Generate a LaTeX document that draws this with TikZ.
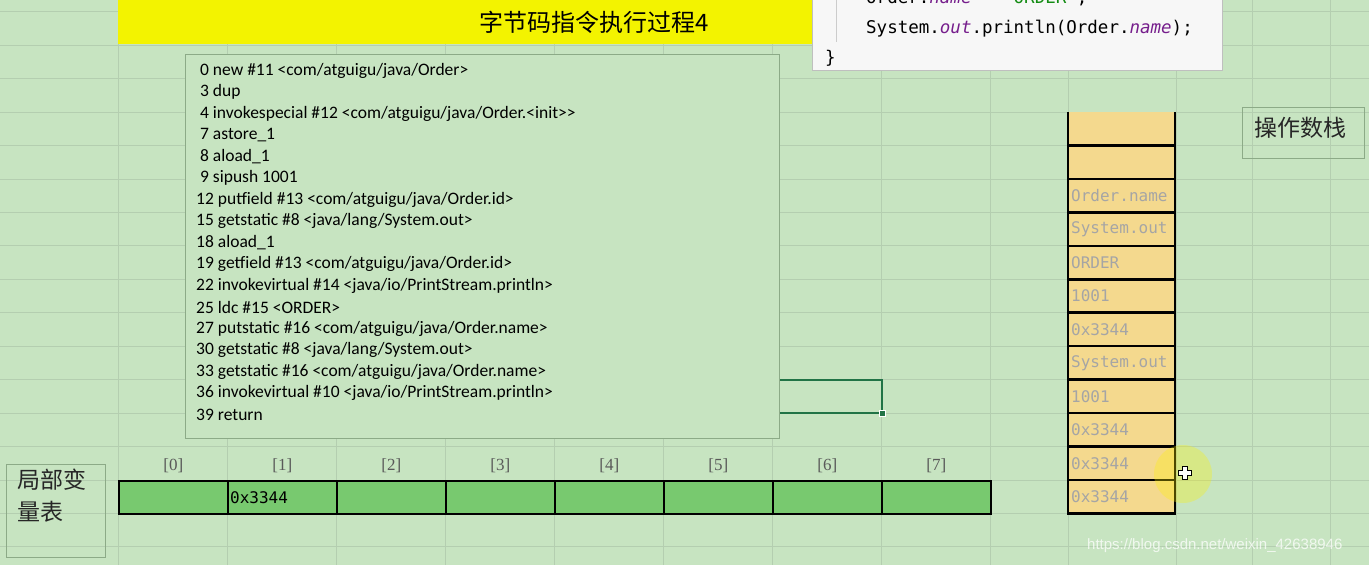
\documentclass[tikz,border=0pt]{standalone}
\usepackage{fontspec}
\setmainfont{Carlito}
\setmonofont{DejaVu Sans Mono}
\newfontfamily\cjk{Noto Sans CJK SC}
\newfontfamily\idxfont{Liberation Serif}
\newfontfamily\wmfont{Liberation Sans}
\usetikzlibrary{positioning}

\definecolor{sheetbg}{RGB}{199,228,193}
\definecolor{gridln}{RGB}{180,206,176}
\definecolor{titleyellow}{RGB}{243,243,0}
\definecolor{boxedge}{RGB}{140,170,135}
\definecolor{lvgreen}{RGB}{120,201,111}
\definecolor{stackfill}{RGB}{244,217,142}
\definecolor{stacktext}{RGB}{165,165,165}
\definecolor{codebg}{RGB}{247,247,247}
\definecolor{kwpurple}{RGB}{118,30,140}
\definecolor{strgreen}{RGB}{20,140,20}
\definecolor{selgreen}{RGB}{33,115,70}

\tikzset{
  lvcell/.style={draw=black,line width=1.6pt,fill=lvgreen,minimum width=109pt,
    minimum height=33.45pt,inner sep=0pt,anchor=north west},
  lvidx/.style={font=\idxfont\fontsize{17}{20}\selectfont,text=black!65},
  bcline/.style={anchor=west,font=\fontsize{17.5}{21.5}\selectfont,inner sep=0pt},
  slot/.style={anchor=west,font=\ttfamily\fontsize{16}{18}\selectfont,text=stacktext,inner sep=0pt},
  labelbox/.style={draw=boxedge,line width=1pt,anchor=north west,inner sep=0pt},
  labeltext/.style={font=\cjk\fontsize{23}{32}\selectfont,text=black!85}
}

\begin{document}
\begin{tikzpicture}[x=1pt,y=-1pt]
\useasboundingbox (0,0) rectangle (1369,565);
\fill[sheetbg] (0,0) rectangle (1369,565);
\foreach \k [evaluate=\k as \yy using 112+33.45*\k] in {-3,...,13}
    \draw[gridln,line width=0.8pt] (0,\yy) -- (1369,\yy);
\foreach \xx in {118,227,336,445,554,663,772,881,990,1068,1176,1252,1330}
    \draw[gridln,line width=0.8pt] (\xx,0) -- (\xx,565);

\fill[titleyellow] (118,0) rectangle (830,44);
\node[font=\cjk\fontsize{24}{28}\selectfont] (title) at (594,22) {字节码指令执行过程4};

\fill[codebg] (812,-5) rectangle (1222,70);
\draw[black!25] (812,-5) -- (812,70) -- (1222,70) -- (1222,-5);
\draw[black!20] (836,0) -- (836,42);
\node[anchor=west,font=\ttfamily\fontsize{17.5}{20}\selectfont,inner sep=0pt] (assignline) at (866,-2)
    {Order.{\itshape\color{kwpurple}name} = {\color{strgreen}"ORDER"};};
\node[anchor=west,font=\ttfamily\fontsize{17.5}{20}\selectfont,inner sep=0pt] (printline) at (866,29)
    {System.{\itshape\color{kwpurple}out}.println(Order.{\itshape\color{kwpurple}name});};
\node[anchor=west,font=\ttfamily\fontsize{17.5}{20}\selectfont,inner sep=0pt] (closebrace) at (825,58) {\}};

\draw[selgreen,line width=1.8pt] (772,379.6) rectangle (882,413);
\draw[white,fill=selgreen,line width=0.6pt] (879,410) rectangle (885,416);

\node[draw=boxedge,line width=1pt,fill=sheetbg,minimum width=594pt,minimum height=384pt,
    anchor=north west,inner sep=0pt] (bytecode) at (185,54) {};
\foreach \i/\txt in {1/{\ 0 new \#11 <com/atguigu/java/Order>},
                     2/{\ 3 dup},
                     3/{\ 4 invokespecial \#12 <com/atguigu/java/Order.<init>\kern0pt>},
                     4/{\ 7 astore\_1},
                     5/{\ 8 aload\_1},
                     6/{\ 9 sipush 1001},
                     7/{12 putfield \#13 <com/atguigu/java/Order.id>},
                     8/{15 getstatic \#8 <java/lang/System.out>},
                     9/{18 aload\_1},
                     10/{19 getfield \#13 <com/atguigu/java/Order.id>},
                     11/{22 invokevirtual \#14 <java/io/PrintStream.println>},
                     12/{25 ldc \#15 <ORDER>},
                     13/{27 putstatic \#16 <com/atguigu/java/Order.name>},
                     14/{30 getstatic \#8 <java/lang/System.out>},
                     15/{33 getstatic \#16 <com/atguigu/java/Order.name>},
                     16/{36 invokevirtual \#10 <java/io/PrintStream.println>},
                     17/{39 return}}
{
    \node[bcline] (bc\i) at (196,{70.5+21.5*(\i-1)}) {\txt};
}

\node[labelbox,minimum width=99pt,minimum height=93pt] (lvbox) at (6,464) {};
\node[labeltext,align=left,anchor=north west,inner sep=0pt] (lvlabel) at (17,469) {局部变\\量表};
\foreach \i in {0,...,7}
{
    \node[lvcell] (lv\i) at ({118+109*\i},479.95) {};
    \node[lvidx,above=4pt of lv\i] (idx\i) {[\i]};
}
\node[anchor=west,font=\ttfamily\fontsize{16}{18}\selectfont,inner sep=0pt] (lvval) at ([xshift=3pt]lv1.west) {0x3344};

\node[labelbox,minimum width=122pt,minimum height=51pt] (stackbox) at (1242,107) {};
\node[labeltext,anchor=west,inner sep=0pt] (stacklabel) at (1254,128) {操作数栈};

\fill[stackfill] (1068,112) rectangle (1175,513.4);
\foreach \k [evaluate=\k as \yy using 112+33.45*\k] in {1,...,12}
    \draw[line width=2.5pt] (1068,\yy) -- (1175,\yy);
\draw[line width=2.5pt] (1068,112) -- (1068,514.6);
\draw[line width=2.5pt] (1175,112) -- (1175,514.6);
\foreach \k/\txt in {3/Order.name,4/System.out,5/ORDER,6/1001,7/0x3344,
                     8/System.out,9/1001,10/0x3344,11/0x3344,12/0x3344}
{
    \node[slot] (slot\k) at (1071,{112+33.45*(\k-0.5)}) {\txt};
}

\fill[yellow,opacity=0.3] (1183,474) circle (29);
\draw[black,fill=white,line width=0.7pt]
    (1182,466) -- (1187,466) -- (1187,470) -- (1191,470) -- (1191,475) -- (1187,475)
    -- (1187,479) -- (1182,479) -- (1182,475) -- (1178,475) -- (1178,470) -- (1182,470) -- cycle;

\node[anchor=west,text=white,opacity=0.75,font=\wmfont\fontsize{15}{18}\selectfont,inner sep=0pt]
    (watermark) at (1087,546) {https://blog.csdn.net/weixin\_42638946};
\end{tikzpicture}
\end{document}
